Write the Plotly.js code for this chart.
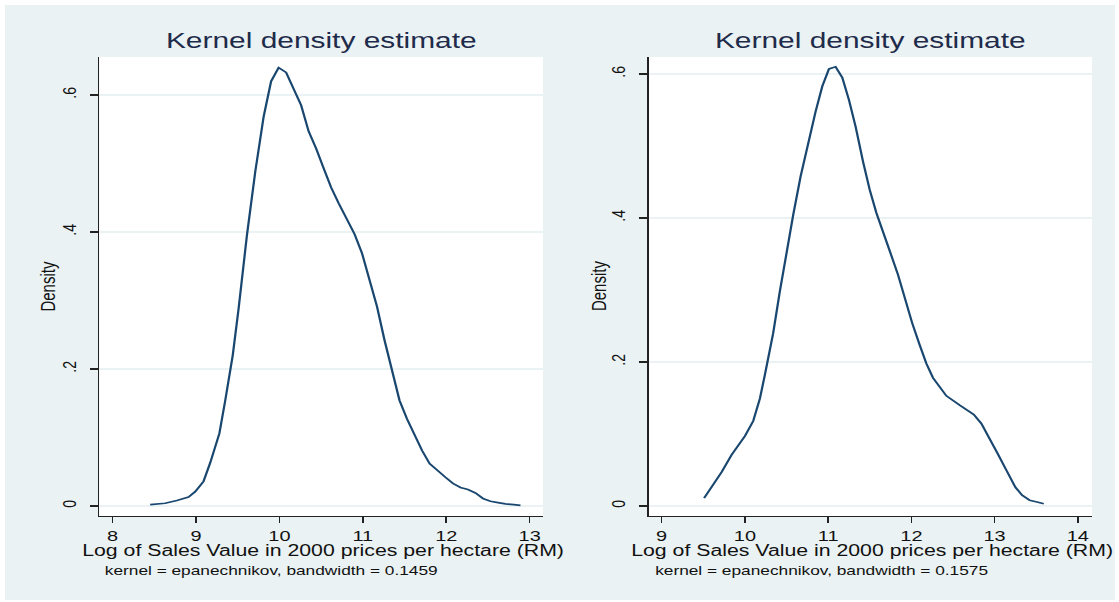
<!DOCTYPE html>
<html>
<head>
<meta charset="utf-8">
<script src="https://cdn.plot.ly/plotly-3.0.1.min.js"></script>
<style>
  html, body { margin: 0; padding: 0; background: #ffffff; overflow: hidden; width: 1119px; height: 602px; }
  #chart { position: absolute; left: 5px; top: 5px; width: 835px; height: 595px;
           transform: scaleX(1.32934); transform-origin: 0 0; }
</style>
</head>
<body>
<div id="chart"></div>
<script>
// Left panel: kernel density estimate (bandwidth 0.1459)
const leftX = [8.45, 8.63, 8.77, 8.91, 8.99, 9.09, 9.17, 9.28, 9.35, 9.44, 9.51, 9.61, 9.71, 9.81, 9.90, 9.99,
  10.08, 10.17, 10.26, 10.35, 10.44, 10.53, 10.62, 10.71, 10.81, 10.90, 10.99, 11.08, 11.17, 11.26, 11.35,
  11.44, 11.53, 11.62, 11.71, 11.80, 11.89, 11.99, 12.08, 12.17, 12.26, 12.35, 12.44, 12.53, 12.62, 12.71, 12.81, 12.89];
const leftY = [0.002, 0.004, 0.008, 0.013, 0.021, 0.036, 0.063, 0.106, 0.154, 0.220, 0.288, 0.395, 0.488, 0.568, 0.620, 0.640,
  0.633, 0.610, 0.585, 0.547, 0.522, 0.493, 0.465, 0.442, 0.417, 0.397, 0.369, 0.332, 0.291, 0.242, 0.196,
  0.154, 0.127, 0.103, 0.081, 0.062, 0.052, 0.042, 0.033, 0.027, 0.024, 0.019, 0.011, 0.007, 0.005, 0.003, 0.002, 0.001];

// Right panel: kernel density estimate (bandwidth 0.1575)
const rightX = [9.51, 9.60, 9.72, 9.84, 10.00, 10.10, 10.18, 10.24, 10.34, 10.42, 10.50, 10.58, 10.67, 10.76, 10.85, 10.93,
  11.01, 11.09, 11.17, 11.25, 11.33, 11.42, 11.50, 11.58, 11.67, 11.75, 11.84, 11.92, 12.01, 12.10, 12.18,
  12.26, 12.42, 12.58, 12.75, 12.84, 12.94, 13.04, 13.14, 13.25, 13.33, 13.42, 13.51, 13.59];
const rightY = [0.011, 0.026, 0.047, 0.071, 0.097, 0.118, 0.149, 0.182, 0.240, 0.298, 0.353, 0.404, 0.458, 0.504, 0.548, 0.583,
  0.607, 0.610, 0.595, 0.564, 0.527, 0.478, 0.439, 0.407, 0.379, 0.351, 0.321, 0.288, 0.254, 0.2235, 0.198,
  0.178, 0.153, 0.140, 0.127, 0.1146, 0.094, 0.072, 0.050, 0.026, 0.015, 0.008, 0.0056, 0.003];

const yTickVals = [0, 0.2, 0.4, 0.6];
const yTickText = ["0", ".2", ".4", ".6"];
const leftXTicks = [8, 9, 10, 11, 12, 13];
const rightXTicks = [9, 10, 11, 12, 13, 14];

const titleText = "Kernel density estimate";
const xTitleText = "Log of Sales Value in 2000 prices per hectare (RM)";
const yTitleText = "Density";
const leftNote = "kernel = epanechnikov, bandwidth = 0.1459";
const rightNote = "kernel = epanechnikov, bandwidth = 0.1575";

const FONT = "Liberation Sans, Arial, Helvetica, sans-serif";
const LINE = "#1a476f";
const GRID = "#eaf2f3";
const BG = "#eaf2f3";

const traces = [
  { x: leftX, y: leftY, type: "scatter", mode: "lines", xaxis: "x", yaxis: "y",
    line: { color: LINE, width: 1.7 }, hoverinfo: "skip", showlegend: false },
  { x: rightX, y: rightY, type: "scatter", mode: "lines", xaxis: "x2", yaxis: "y2",
    line: { color: LINE, width: 1.7 }, hoverinfo: "skip", showlegend: false }
];

function xAxis(domain, range, ticks, anchor) {
  return {
    domain: domain, range: range, anchor: anchor,
    tickmode: "array", tickvals: ticks, ticktext: ticks.map(String),
    ticks: "outside", ticklen: 6, tickwidth: 1.2, tickcolor: "#222",
    showline: true, linecolor: "#222", linewidth: 1.3, mirror: false,
    showgrid: false, zeroline: false,
    tickfont: { family: FONT, size: 15, color: "#111" },
    ticklabelstandoff: 0, fixedrange: true
  };
}
function yAxis(range, anchor) {
  return {
    domain: [0.14118, 0.91261], range: range, anchor: anchor,
    tickmode: "array", tickvals: yTickVals, ticktext: yTickText, tickangle: -90,
    ticks: "outside", ticklen: 6, tickwidth: 1.2, tickcolor: "#222",
    showline: true, linecolor: "#222", linewidth: 1.3, mirror: false,
    showgrid: true, gridcolor: GRID, gridwidth: 1.2, zeroline: false,
    tickfont: { family: FONT, size: 14, color: "#111" },
    ticklabelstandoff: 5, fixedrange: true
  };
}

const annFont = (size, color) => ({ family: FONT, size: size, color: color });
const annotations = [
  { text: titleText, x: 0.2847, y: 0.9395, xanchor: "center", yanchor: "middle", font: annFont(22.5, "#1f2b4a") },
  { text: titleText, x: 0.7797, y: 0.9395, xanchor: "center", yanchor: "middle", font: annFont(22.5, "#1f2b4a") },
  { text: xTitleText, x: 0.2874, y: 0.0840, xanchor: "center", yanchor: "middle", font: annFont(16, "#111") },
  { text: xTitleText, x: 0.7820, y: 0.0840, xanchor: "center", yanchor: "middle", font: annFont(16, "#111") },
  { text: leftNote, x: 0.0875, y: 0.0504, xanchor: "left", yanchor: "middle", font: annFont(13, "#111") },
  { text: rightNote, x: 0.5830, y: 0.0504, xanchor: "left", yanchor: "middle", font: annFont(13, "#111") },
  { text: yTitleText, x: 0.0378, y: 0.5277, xanchor: "center", yanchor: "middle", textangle: -90, font: annFont(15, "#111") },
  { text: yTitleText, x: 0.5342, y: 0.5277, xanchor: "center", yanchor: "middle", textangle: -90, font: annFont(15, "#111") }
].map(a => Object.assign({ xref: "paper", yref: "paper", showarrow: false }, a));

const layout = {
  width: 835, height: 595,
  margin: { l: 0, r: 0, t: 0, b: 0, pad: 0 },
  paper_bgcolor: BG, plot_bgcolor: "#ffffff",
  showlegend: false,
  xaxis: xAxis([0.08495, 0.48468], [7.84, 13.16], leftXTicks, "y"),
  yaxis: yAxis([-0.0146, 0.6555], "x"),
  xaxis2: xAxis([0.58018, 0.97928], [8.848, 14.17], rightXTicks, "y2"),
  yaxis2: yAxis([-0.0139, 0.6236], "x2"),
  annotations: annotations,
  font: { family: FONT }
};

Plotly.newPlot("chart", traces, layout, { staticPlot: true, displayModeBar: false });
</script>
</body>
</html>
